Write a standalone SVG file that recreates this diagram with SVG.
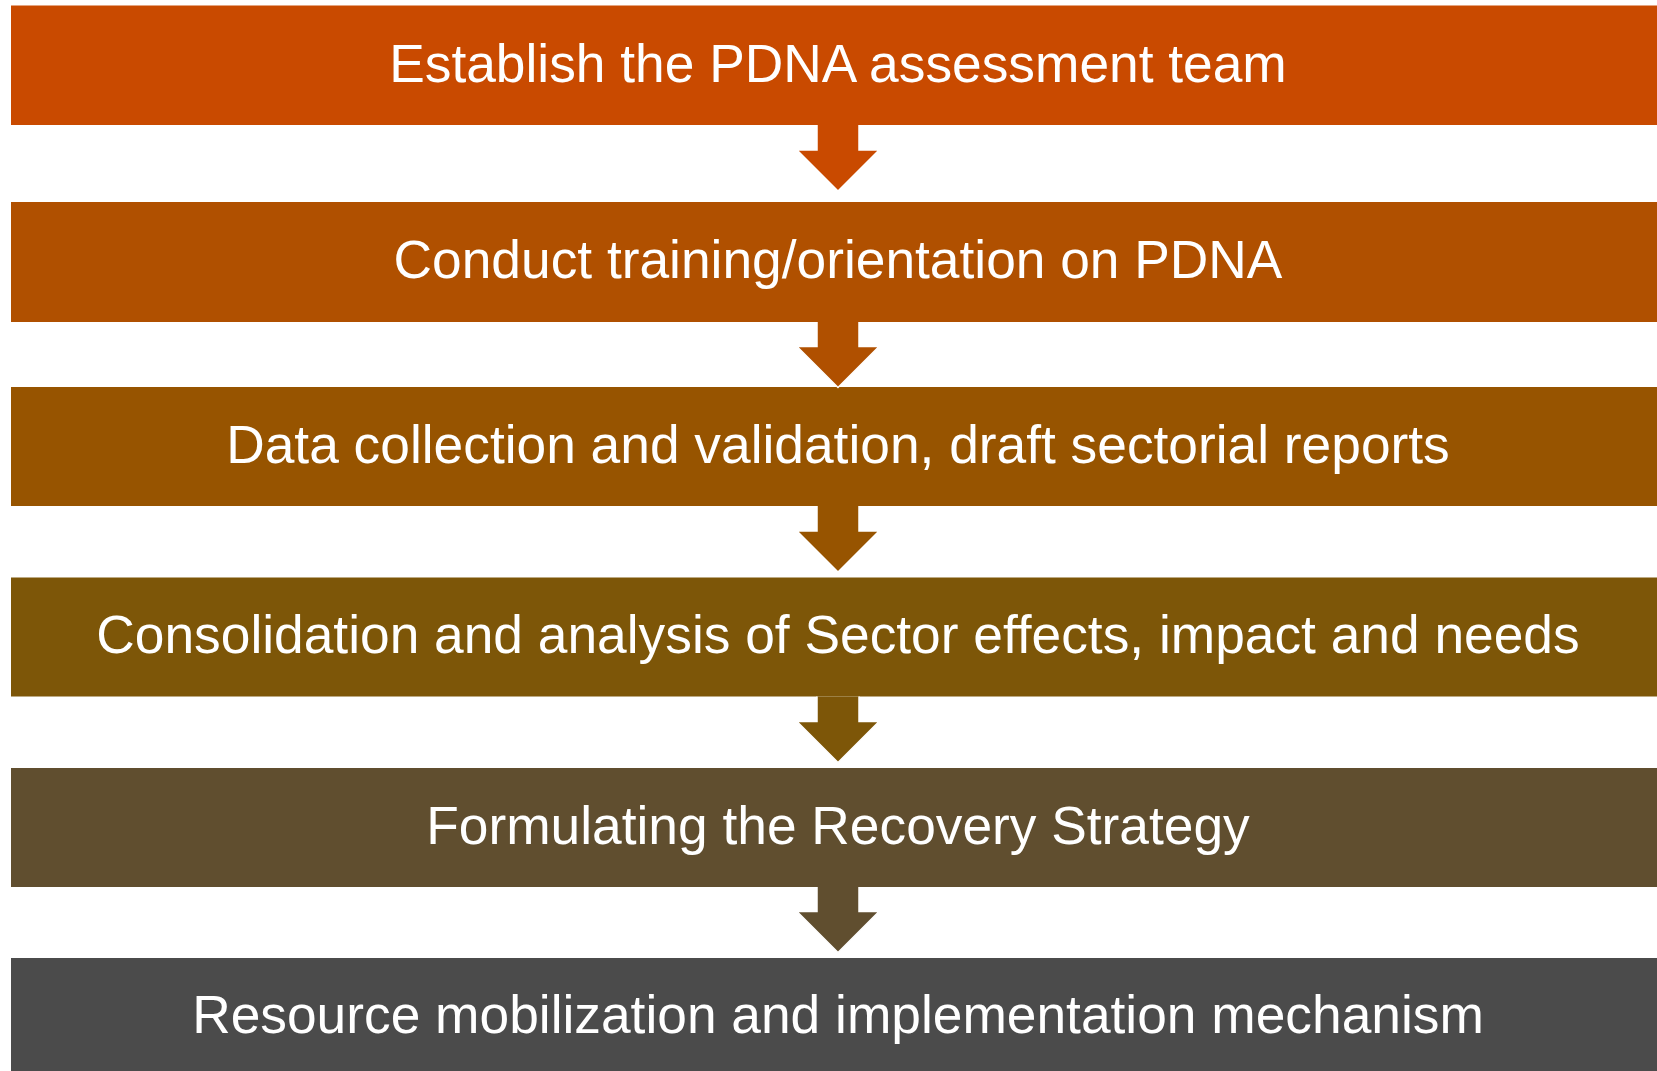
<svg xmlns="http://www.w3.org/2000/svg" width="1657" height="1071" viewBox="0 0 1657 1071">
<style>
.lbl{font-family:"Liberation Sans",Arial,sans-serif;font-size:53.3px;fill:#fff;text-anchor:middle}
.arr{stroke:#fff;stroke-width:1.5;stroke-linejoin:miter}
</style>
<rect width="1657" height="1071" fill="#fff"/>
<g id="node1"><rect x="11" y="5.5" width="1660" height="119.5" fill="#C94A00"/><text class="lbl" x="838" y="82">Establish the PDNA assessment team</text></g>
<g id="node2"><rect x="11" y="202" width="1660" height="120" fill="#B05000"/><text class="lbl" x="838" y="278">Conduct training/orientation on PDNA</text></g>
<g id="node3"><rect x="11" y="387" width="1660" height="119" fill="#975400"/><text class="lbl" x="838" y="462.5">Data collection and validation, draft sectorial reports</text></g>
<g id="node4"><rect x="11" y="577.5" width="1660" height="119" fill="#7D5608"/><text class="lbl" x="838" y="652.5">Consolidation and analysis of Sector effects, impact and needs</text></g>
<g id="node5"><rect x="11" y="768" width="1660" height="119" fill="#604E2F"/><text class="lbl" x="838" y="843.5">Formulating the Recovery Strategy</text></g>
<g id="node6"><rect x="11" y="958" width="1660" height="120" fill="#4B4B4B"/><text class="lbl" x="838" y="1033">Resource mobilization and implementation mechanism</text></g>
<g id="connectors">
<path class="arr" fill="#C94A00" d="M817,125 V150 H797 L838,191 L879,150 H859 V125"/>
<path class="arr" fill="#B05000" d="M817,322 V346.5 H797 L838,387.5 L879,346.5 H859 V322"/>
<path class="arr" fill="#975400" d="M817,506 V531 H797 L838,572 L879,531 H859 V506"/>
<path class="arr" fill="#7D5608" d="M817,696.5 V721.5 H797 L838,762.5 L879,721.5 H859 V696.5"/>
<path class="arr" fill="#604E2F" d="M817,887 V911.5 H797 L838,952.5 L879,911.5 H859 V887"/>
</g>
</svg>
